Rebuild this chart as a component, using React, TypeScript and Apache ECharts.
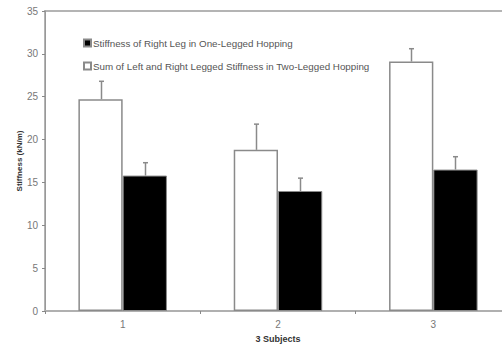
import React, { useEffect, useRef } from "react";
import * as echarts from "echarts";

const categories = ["1", "2", "3"];
const twoLegged = [24.7, 18.8, 29.1];
const twoLeggedErr = [2.1, 3.0, 1.5];
const oneLegged = [15.8, 14.0, 16.5];
const oneLeggedErr = [1.5, 1.5, 1.5];
const yTicks = { min: 0, max: 35, interval: 5 };

const NAME_ONE = "Stiffness of Right Leg in One-Legged Hopping";
const NAME_TWO = "Sum of Left and Right Legged Stiffness in Two-Legged Hopping";

const CAT_GAP = 0.43;

function errorSeries(values: number[], errs: number[], side: number) {
  return {
    type: "custom",
    silent: true,
    z: 1,
    data: values.map((v, i) => [i, v, v + errs[i]]),
    renderItem: (params: any, api: any) => {
      const band = api.size([1, 0])[0];
      const offset = side * band * (1 - CAT_GAP) / 4;
      const base = api.coord([api.value(0), api.value(1)]);
      const top = api.coord([api.value(0), api.value(2)]);
      const x = Math.round(base[0] + offset) + 0.5;
      const style = { stroke: "#8a8a8a", lineWidth: 1.5 };
      return {
        type: "group",
        children: [
          { type: "line", shape: { x1: x, y1: base[1], x2: x, y2: top[1] }, style },
          { type: "line", shape: { x1: x - 2.5, y1: top[1], x2: x + 2.5, y2: top[1] }, style },
        ],
      };
    },
  };
}

export default function App() {
  const ref = useRef<HTMLDivElement>(null);
  useEffect(() => {
    if (!ref.current) return;
    const chart = echarts.init(ref.current, undefined, { renderer: "svg" });
    chart.setOption({
      animation: false,
      backgroundColor: "#ffffff",
      textStyle: { fontFamily: "Liberation Sans, Arial, sans-serif" },
      grid: {
        left: 45,
        top: 11,
        right: 19,
        bottom: 33,
        containLabel: false,
        outerBoundsMode: "none",
        show: true,
        borderColor: "#b4b4b4",
        borderWidth: 2,
        backgroundColor: "transparent",
      },
      legend: {
        orient: "vertical",
        left: 78,
        top: 33,
        itemGap: 13,
        itemWidth: 7,
        itemHeight: 7,
        icon: "rect",
        data: [NAME_ONE, NAME_TWO],
        textStyle: { fontSize: 9.8, color: "#555555", padding: [0, 0, 0, -3] },
      },
      xAxis: {
        type: "category",
        data: categories,
        name: "3 Subjects",
        nameLocation: "middle",
        nameGap: 23,
        nameMoveOverlap: false,
        nameTextStyle: { fontSize: 9, fontWeight: "bold", color: "#333333" },
        axisLine: { lineStyle: { color: "#b0b0b0", width: 2 } },
        axisTick: { show: true, length: 3, lineStyle: { color: "#888888" } },
        axisLabel: { fontSize: 10, color: "#777777", margin: 8 },
      },
      yAxis: {
        type: "value",
        min: yTicks.min,
        max: yTicks.max,
        interval: yTicks.interval,
        name: "Stiffness (kN/m)",
        nameLocation: "middle",
        nameGap: 22,
        nameMoveOverlap: false,
        nameTextStyle: { fontSize: 8, fontWeight: "bold", color: "#333333" },
        axisLine: { show: true, lineStyle: { color: "#999999", width: 1 } },
        axisTick: { show: true, length: 3, lineStyle: { color: "#888888" } },
        axisLabel: { fontSize: 10, color: "#777777", margin: 7 },
        splitLine: { show: false },
      },
      series: [
        {
          name: NAME_TWO,
          type: "bar",
          data: twoLegged,
          barGap: "0%",
          barCategoryGap: CAT_GAP * 100 + "%",
          itemStyle: { color: "#ffffff", borderColor: "#8a8a8a", borderWidth: 1.5 },
          z: 2,
        },
        {
          name: NAME_ONE,
          type: "bar",
          data: oneLegged,
          barGap: "0%",
          barCategoryGap: CAT_GAP * 100 + "%",
          itemStyle: { color: "#000000", borderColor: "#8a8a8a", borderWidth: 1 },
          z: 2,
        },
        errorSeries(twoLegged, twoLeggedErr, -1),
        errorSeries(oneLegged, oneLeggedErr, 1),
      ],
    });
    return () => chart.dispose();
  }, []);
  return (
    <div
      style={{
        position: "fixed",
        left: 0,
        top: 0,
        width: 502,
        height: 344,
        overflow: "hidden",
        background: "#fff",
      }}
    >
      <div ref={ref} style={{ width: 530, height: 344 }} />
    </div>
  );
}
